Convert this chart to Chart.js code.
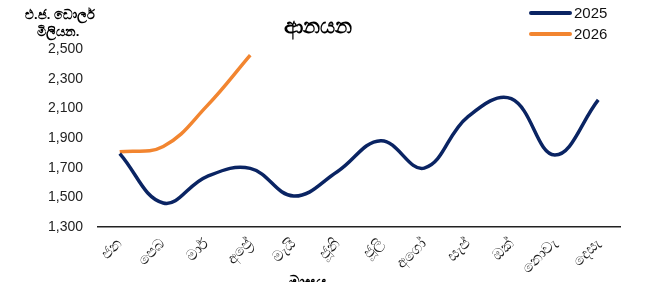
<!DOCTYPE html>
<html><head><meta charset="utf-8">
<script src="https://cdn.jsdelivr.net/npm/chart.js@4.4.1/dist/chart.umd.min.js"></script>
<style>html,body{margin:0;padding:0;background:#fff}#wrap{width:645px;height:282px;position:relative}</style>
</head><body><div id="wrap"><canvas id="c" width="645" height="282"></canvas></div>
<script>
const months = ['ජන','පෙබ','මාර්','අප්‍රේ','මැයි','ජූනි','ජූලි','අගෝ','සැප්','ඔක්','නොවැ','දෙසැ'];
const imports2025 = [1795,1462,1640,1695,1509,1673,1882,1697,2043,2165,1785,2157];
const imports2026 = [1807,1843,2115,2459];
const seriesNames = ['2025','2026'];
const yTicks = [1300,1500,1700,1900,2100,2300,2500];
const chartTitle = 'ආනයන';
const yTitle = ['එ.ජ. ඩොලර්','මිලියන.'];
const xTitle = 'මාසය';

const FONT = "'Liberation Sans', 'Noto Sans', sans-serif";

const extras = {
  id:'extras',
  afterDraw(chart){
    const ctx = chart.ctx;
    ctx.save();
    ctx.fillStyle = '#000';
    ctx.textAlign = 'center'; ctx.textBaseline = 'middle';
    ctx.font = "bold 21px " + FONT;
    ctx.fillText(chartTitle, 318, 27);
    ctx.font = "bold 13px " + FONT;
    ctx.fillText(yTitle[0], 60, 15);
    ctx.fillText(yTitle[1], 58, 32);
    ctx.font = "bold 15px " + FONT;
    ctx.fillText(xTitle, 308, 283);
    // legend
    const ys = [13, 34];
    chart.data.datasets.forEach((ds, i) => {
      ctx.strokeStyle = ds.borderColor; ctx.lineWidth = 4; ctx.lineCap = 'round';
      ctx.beginPath(); ctx.moveTo(531, ys[i]); ctx.lineTo(570, ys[i]); ctx.stroke();
      ctx.fillStyle = '#111'; ctx.font = "15px " + FONT; ctx.textAlign = 'left';
      ctx.fillText(ds.label, 574, ys[i] + 1);
    });
    ctx.restore();
  }
};

new Chart(document.getElementById('c'), {
  type:'line',
  data:{
    labels: months,
    datasets:[
      {label: seriesNames[0], data: imports2025, borderColor:'#0A2463', borderWidth:3.5, pointRadius:0, tension:0.4, fill:false},
      {label: seriesNames[1], data: imports2026, borderColor:'#F28530', borderWidth:3.5, pointRadius:0, tension:0.4, fill:false}
    ]
  },
  options:{
    responsive:false, animation:false,
    layout:{padding:{top:49, left:0, right:25, bottom:0}},
    plugins:{legend:{display:false}, title:{display:false}, tooltip:{enabled:false}},
    scales:{
      x:{
        offset:true,
        grid:{display:false, drawTicks:false},
        border:{display:true, color:'#222', width:1.5},
        ticks:{autoSkip:false, maxRotation:45, minRotation:45, padding:8, color:'#222', font:{family:FONT, size:15}},
        afterFit(s){ s.height = 55; }
      },
      y:{
        min:1300, max:2500,
        afterBuildTicks(s){ s.ticks = yTicks.map(v=>({value:v})); },
        grid:{display:false, drawTicks:false},
        border:{display:false},
        ticks:{padding:15, color:'#222', font:{family:FONT, size:14}, callback:v=>v.toLocaleString('en-US')},
        afterFit(s){ s.width = 98; }
      }
    }
  },
  plugins:[extras]
});
</script></body></html>
